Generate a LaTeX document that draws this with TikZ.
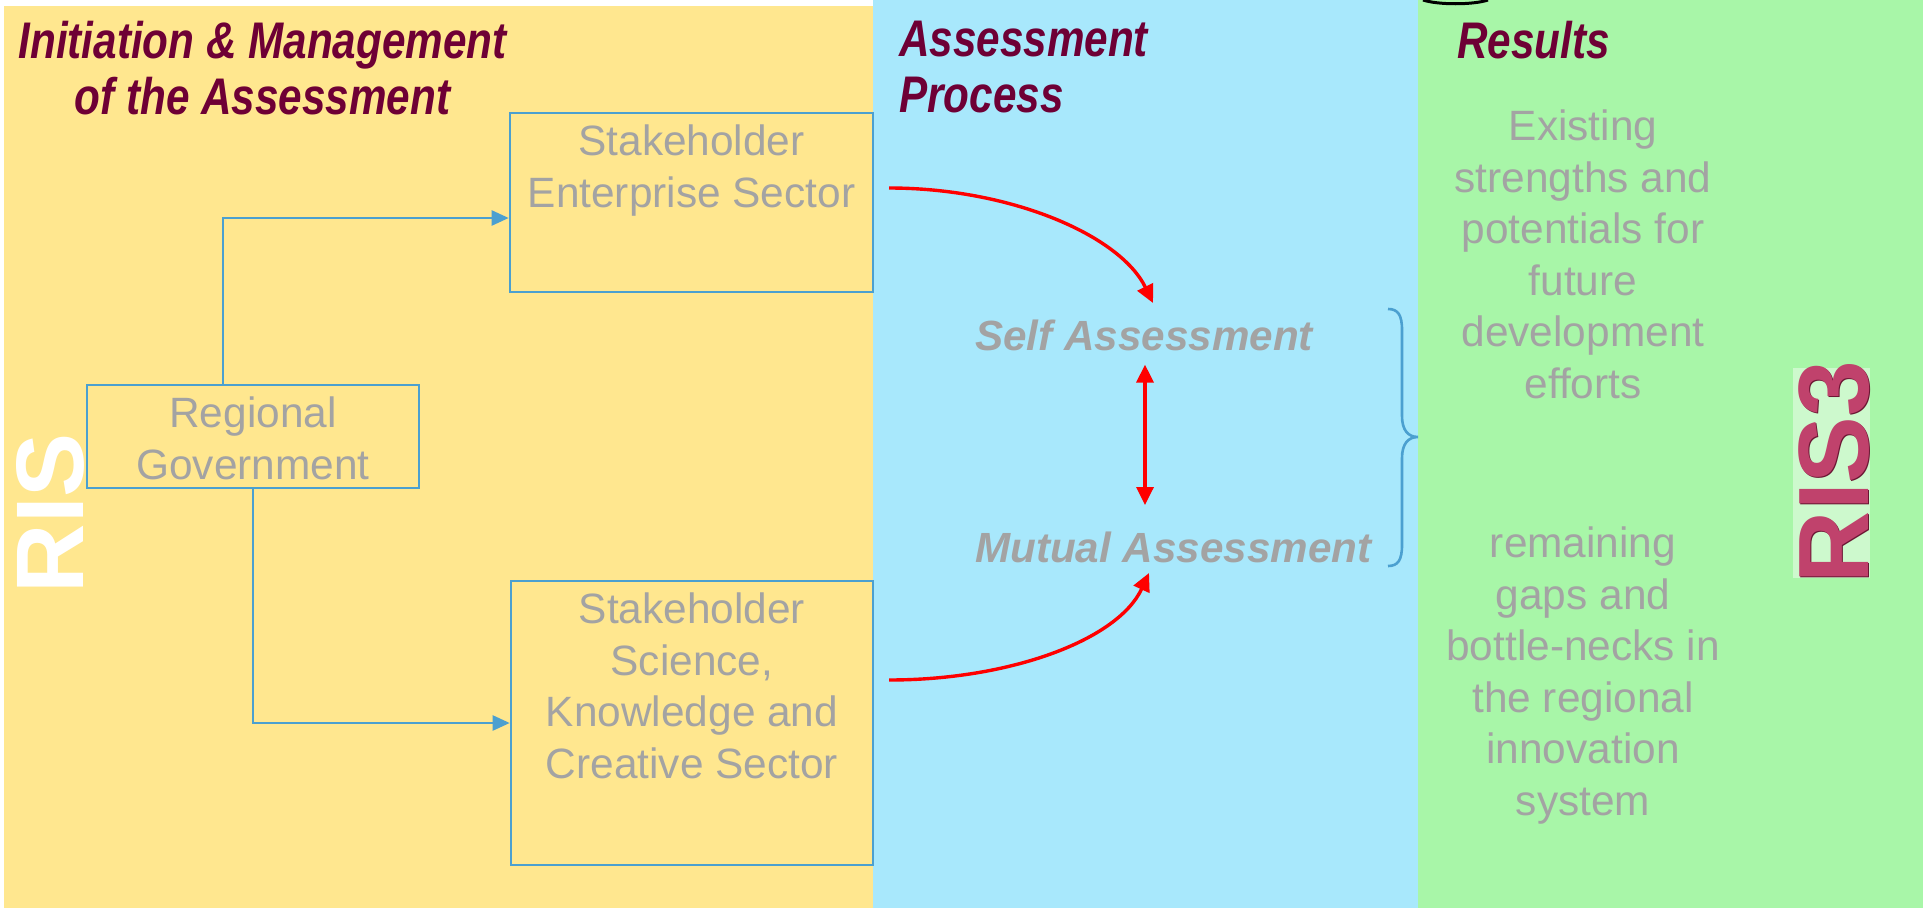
\documentclass[tikz,border=0pt]{standalone}
\usepackage{fontspec}
\setmainfont{Liberation Sans}
\newfontfamily\narrowfont[FakeStretch=0.82]{Liberation Sans}
\usetikzlibrary{arrows.meta}
\definecolor{panelyellow}{HTML}{FFE78F}
\definecolor{panelblue}{HTML}{A8E8FC}
\definecolor{panelgreen}{HTML}{A8F6A8}
\definecolor{palegreen}{HTML}{CDF9CD}
\definecolor{lineblue}{HTML}{4BA0D0}
\definecolor{textgrey}{HTML}{A3A3A3}
\definecolor{titlered}{HTML}{6E0035}
\definecolor{riscrimson}{HTML}{C0426C}
\definecolor{risdark}{HTML}{6A1633}
\begin{document}
\begin{tikzpicture}[x=1pt,y=-1pt,
  boxnode/.style={draw=lineblue, line width=2.6pt, rectangle, inner sep=0pt},
  greytext/.style={text=textgrey, font=\fontsize{42.4}{51.5}\selectfont, align=center, inner sep=0pt},
  assesstext/.style={text=textgrey, font=\bfseries\itshape\fontsize{42.2}{50}\selectfont, inner sep=0pt},
  heading/.style={text=titlered, font=\narrowfont\bfseries\itshape\fontsize{51.5}{56}\selectfont, inner sep=0pt},
  bluearr/.style={draw=lineblue, line width=2.4pt, -{Triangle[length=17pt,width=15pt]}},
  redarr/.style={draw=red, line width=3.4pt, -{Triangle[length=18pt,width=17pt]}},
  redboth/.style={draw=red, line width=3.4pt, {Triangle[length=18pt,width=17pt]}-{Triangle[length=18pt,width=17pt]}},
  bracestyle/.style={draw=lineblue, line width=2.6pt}
]
\useasboundingbox (0,0) rectangle (1923,908);
% panels
\fill[white] (0,0) rectangle (873,908);
\fill[panelyellow] (4,6) rectangle (873,908);
\fill[panelblue] (873,0) rectangle (1418,908);
\fill[panelgreen] (1418,0) rectangle (1923,908);
% small black shape at top
\draw[black, line width=3pt] (1423,0) .. controls (1438,5) and (1473,5) .. (1488,0);

% headings
\node[heading, align=center, anchor=north] (h1) at (262.5,21) {Initiation \& Management\\of the Assessment};
\node[heading, align=left, anchor=north west] (h2) at (899,21) {Assessment\\Process};
\node[heading, anchor=north west] (h3) at (1457,21) {Results};

% boxes
\node[boxnode, minimum width=363pt, minimum height=179pt] (box1) at (691.5,202.5) {};
\node[boxnode, minimum width=362pt, minimum height=284pt] (box2) at (692,723) {};
\node[boxnode, minimum width=332pt, minimum height=103pt] (reg) at (253,436.5) {};

\node[greytext, anchor=north] (box1t) at (691.5,125) {Stakeholder\\Enterprise Sector};
\node[greytext, anchor=north] (box2t) at (692,593) {Stakeholder\\Science,\\Knowledge and\\Creative Sector};
\node[greytext, anchor=north] (regt) at (253,397) {Regional\\Government};

% blue connectors
\draw[bluearr] (reg.north -| 223,0) |- (box1.west |- 0,218);
\draw[bluearr] (reg.south) |- (box2.west |- 0,723);

% assessment texts
\node[assesstext, anchor=base west] (selfa) at (975,350) {Self Assessment};
\node[assesstext, anchor=base west] (mutua) at (975,562) {Mutual Assessment};

% red connectors
\coordinate (r1s) at (889,188);
\coordinate (r1e) at (1153,303);
\coordinate (r2s) at (889,680);
\coordinate (r2e) at (1149,573);
\draw[redarr] (r1s) .. controls (1010,188) and (1120,235) .. (r1e);
\draw[redarr] (r2s) .. controls (1010,680) and (1118,640) .. (r2e);
\draw[redboth] (selfa.south -| 1145,0) ++(0,14) coordinate (dA) -- (1145,505) coordinate (dB);

% brace
\draw[bracestyle] (1388,309) .. controls (1398,309) and (1402,315) .. (1402,330) -- (1402,416)
  .. controls (1402,430) and (1408,437) .. (1418,437)
  .. controls (1408,437) and (1402,444) .. (1402,458) -- (1402,545)
  .. controls (1402,560) and (1398,566) .. (1388,566);

% results
\node[greytext, anchor=north] (res1) at (1583,110) {Existing\\strengths and\\potentials for\\future\\development\\efforts};
\node[greytext, anchor=north] (res2) at (1583,527) {remaining\\gaps and\\bottle-necks in\\the regional\\innovation\\system};

% RIS labels
\node[rotate=90, text=white, font=\bfseries\fontsize{96}{100}\selectfont, inner sep=0pt] (ris) at (50,513) {RIS};
\fill[palegreen] (1793,368) rectangle (1870,578);
\node[rotate=90, text=risdark, font=\bfseries\fontsize{100}{104}\selectfont, inner sep=0pt] (ris3s) at (1835,473) {RIS3};
\node[rotate=90, text=riscrimson, font=\bfseries\fontsize{100}{104}\selectfont, inner sep=0pt] (ris3) at (1834,472) {RIS3};
\end{tikzpicture}
\end{document}
